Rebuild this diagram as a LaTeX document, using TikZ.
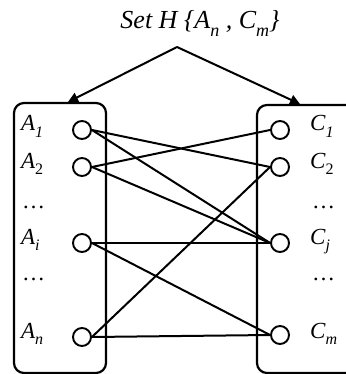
\documentclass[tikz,border=0pt]{standalone}
\usepackage{fontspec}
\setmainfont{Liberation Serif}
\usetikzlibrary{arrows.meta}
\newcommand{\lsub}[1]{\raisebox{-6.5pt}{\fontsize{16}{16}\selectfont #1}}
\newcommand{\tsub}[1]{\raisebox{-7.5pt}{\fontsize{18}{18}\selectfont #1}}
\begin{document}
\begin{tikzpicture}[x=1pt,y=-1pt,
 lbl/.style={font=\fontsize{23}{24}\selectfont\itshape, inner sep=0, anchor=base west},
 ttl/.style={font=\fontsize{26}{28}\selectfont\itshape, inner sep=0, anchor=base},
 port/.style={circle, draw, line width=1.9pt, minimum size=18pt, inner sep=0},
 link/.style={line width=2pt},
 grp/.style={draw, line width=2.2pt, rounded corners=10pt, inner sep=0},
 arr/.style={line width=2pt, -{Triangle[length=10pt,width=10pt]}}]
\useasboundingbox (0,0) rectangle (345,374);
% title
\node[ttl] (title) at (200,29) {Set H \{A\tsub{n} , C\tsub{m}\}};
\coordinate (apex) at (177,47);
% boxes
\node[grp, minimum width=92pt, minimum height=270pt] (lbox) at (60,238) {};
\node[grp, minimum width=100pt, minimum height=268pt] (rbox) at (307,239) {};
\coordinate (lt) at (68,102);
\coordinate (rt) at (300,104);
\draw[arr] (apex) -- (lt);
\draw[arr] (apex) -- (rt);
% left ports
\node[port] (a1) at (82,130) {};
\node[port] (a2) at (82,167) {};
\node[port] (ai) at (82,243) {};
\node[port] (an) at (82,337) {};
% right ports
\node[port] (c1) at (280,130) {};
\node[port] (c2) at (280,167) {};
\node[port] (cj) at (280,243) {};
\node[port] (cm) at (280,335) {};
% left labels
\node[lbl] (la1) at (21,131) {A\lsub{1}};
\node[lbl] (la2) at (21,168) {A\lsub{\upshape 2}};
\node[lbl] (ld1) at (22,208) {\upshape\dots};
\node[lbl] (lai) at (21,244) {A\lsub{i}};
\node[lbl] (ld2) at (22,280) {\upshape\dots};
\node[lbl] (lan) at (21,338) {A\lsub{n}};
% right labels
\node[lbl] (lc1) at (310,131) {C\lsub{1}};
\node[lbl] (lc2) at (310,168) {C\lsub{\upshape 2}};
\node[lbl] (rd1) at (312,208) {\upshape\dots};
\node[lbl] (lcj) at (310,244) {C\lsub{j}};
\node[lbl] (rd2) at (312,280) {\upshape\dots};
\node[lbl] (lcm) at (310,338) {C\lsub{m}};
% links
\draw[link] (a1.east) -- (c2.west);
\draw[link] (a1.east) -- (cj.west);
\draw[link] (a2.east) -- (c1.west);
\draw[link] (a2.east) -- (cj.west);
\draw[link] (ai.east) -- (cj.west);
\draw[link] (ai.east) -- (cm.west);
\draw[link] (an.east) -- (c2.west);
\draw[link] (an.east) -- (cm.west);
\end{tikzpicture}
\end{document}
